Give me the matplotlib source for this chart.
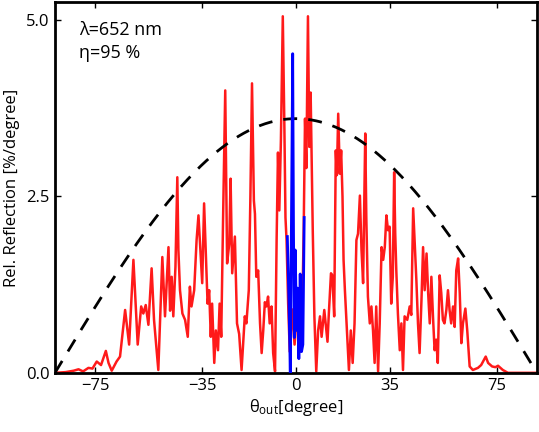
import numpy as np
import matplotlib
matplotlib.use('Agg')
import matplotlib.pyplot as plt

# red curve: (theta_out [degree], reflection [%/degree])
red_points = [
    (-90, 0.0), (-86, 0.01), (-83, 0.03), (-81.2, 0.05), (-79.5, 0.02), (-77.5, 0.07), (-76, 0.06),
    (-74.4, 0.16), (-72.8, 0.11), (-71, 0.31), (-70, 0.14), (-68.8, 0.03), (-67, 0.16),
    (-65.7, 0.23), (-63.8, 0.89), (-62.3, 0.4), (-60.7, 1.6), (-59.1, 0.4), (-57.8, 0.94),
    (-57, 0.84), (-56.1, 0.96), (-55.1, 0.68), (-53.9, 1.48), (-53, 0.75), (-51.4, 0.04),
    (-49.9, 1.64), (-48.9, 0.8), (-47.6, 1.78), (-47, 0.88), (-46.4, 1.36), (-45.8, 0.8),
    (-45, 1.5), (-44.3, 2.77), (-43.9, 1.74), (-43.3, 1.17), (-42.4, 0.84), (-41.4, 0.75),
    (-40.4, 0.51), (-39.6, 1.22), (-39, 0.94), (-38, 1.17), (-37.1, 1.88), (-36.4, 2.23),
    (-35.5, 1.6), (-35, 1.27), (-34.3, 2.4), (-33.7, 1.74), (-33, 0.98), (-32.4, 1.17),
    (-31.8, 0.51), (-31.3, 0.98), (-30.5, 0.14), (-29.9, 0.6), (-29.1, 0.32), (-28.5, 0.98),
    (-27.9, 0.51), (-27.2, 2.2), (-26.4, 4.0), (-25.7, 1.55), (-24.9, 1.83), (-24.4, 2.75),
    (-23.8, 1.41), (-22.8, 1.93), (-22, 0.7), (-21.2, 0.55), (-20.3, 0.04), (-19.1, 0.8),
    (-18.5, 0.7), (-17.6, 1.17), (-17, 2.5), (-16.4, 4.1), (-15.7, 2.44), (-15.3, 2.25),
    (-14.8, 1.36), (-14.1, 1.45), (-13.4, 0.7), (-12.8, 0.28), (-12.2, 0.6), (-11.6, 1.0),
    (-11, 0.94), (-10.4, 1.08), (-9.8, 0.7), (-9.1, 0.94), (-8.5, 0.28), (-7.8, 0.02),
    (-7.2, 1.9), (-6.7, 3.12), (-6.2, 2.3), (-5.6, 3.3), (-4.9, 5.05), (-4.3, 3.46),
    (-3.9, 2.2), (-3.5, 1.88), (-2.9, 0.98), (-2.3, 0.3), (-1.5, 0.9), (-0.5, 0.4),
    (0.5, 0.9), (1.5, 0.3), (2.2, 0.5), (2.9, 2.0), (3.4, 3.6), (3.9, 2.9), (4.5, 5.05),
    (5.0, 3.2), (5.5, 3.97), (5.9, 3.0), (6.3, 2.0), (6.9, 0.8), (7.6, 0.02), (8.3, 0.6),
    (9, 0.8), (9.6, 0.51), (10.6, 0.89), (11.1, 0.7), (11.8, 0.44), (12.3, 0.84), (13.1, 1.41),
    (13.6, 1.38), (14.3, 0.8), (14.9, 3.15), (15.3, 2.8), (15.8, 3.67), (16.4, 2.82),
    (16.9, 3.15), (17.4, 2.5), (17.8, 1.6), (18.3, 1.17), (19.2, 0.51), (19.8, 0.04),
    (20.5, 0.6), (21.2, 0.14), (21.9, 0.7), (22.6, 1.88), (23.2, 1.97), (23.9, 2.51),
    (24.5, 1.74), (25.1, 1.27), (25.9, 3.39), (26.3, 2.2), (26.9, 1.08), (27.6, 0.7),
    (28.2, 0.94), (28.8, 0.6), (29.4, 0.14), (30, 0.94), (30.7, 0.02), (31.3, 0.7), (32, 1.78),
    (32.6, 1.6), (33.2, 1.78), (33.8, 2.23), (34.4, 2.02), (35, 2.07), (35.6, 0.98),
    (36.2, 1.36), (36.7, 2.84), (37.1, 1.97), (37.5, 1.45), (38.1, 0.84), (38.8, 0.32),
    (39.4, 0.7), (40, 0.04), (40.6, 0.8), (41.6, 0.75), (42.5, 0.94), (43.1, 0.82),
    (43.8, 2.33), (44.4, 1.83), (45, 1.31), (45.6, 0.7), (46.2, 0.28), (46.9, 1.03),
    (47.5, 1.78), (48.1, 1.17), (48.8, 1.69), (49.4, 1.13), (50, 0.7), (50.6, 1.36),
    (51.2, 0.8), (51.8, 0.32), (52.4, 0.47), (53, 0.14), (53.7, 1.38), (54.3, 1.13),
    (54.9, 0.75), (55.5, 0.7), (56.2, 0.89), (56.8, 1.17), (57.4, 0.89), (58, 0.7),
    (58.7, 0.94), (59.3, 0.65), (59.9, 1.45), (60.6, 1.62), (61.2, 1.13), (61.8, 0.42),
    (62.4, 0.7), (63.3, 0.91), (64, 0.6), (64.9, 0.09), (66.1, 0.04), (68, 0.07), (69.2, 0.11),
    (70.9, 0.23), (71.8, 0.14), (73.3, 0.09), (74.5, 0.08), (75.5, 0.1), (77.3, 0.04),
    (79.2, 0.0), (90, 0.0),
]
theta_red = [p[0] for p in red_points]
refl_red = [p[1] for p in red_points]

# blue curve (central part)
theta_blue = [-3.2, -2.6, -2.1, -1.6, -1.2, -0.9, -0.6, -0.25, 0.25, 0.6, 1.1, 1.6, 2.1, 2.6, 3.1]
refl_blue = [1.93, 1.0, 0.0, 2.5, 4.52, 2.0, 0.5, 1.74, 0.6, 1.2, 0.2, 1.4, 0.3, 0.4, 2.2]

peak_envelope = 3.6

plt.rcParams['font.family'] = ['Open Sans', 'DejaVu Sans']

fig = plt.figure(figsize=(5.39, 4.32), dpi=100)
ax = fig.add_axes([0.102, 0.137, 0.894, 0.858])

th = np.linspace(-90, 90, 361)
ax.plot(th, peak_envelope * np.cos(np.radians(th)), color='black', lw=2, ls=(0, (5, 4)), zorder=3)
ax.plot(theta_red, refl_red, color='#ff1a1a', lw=1.8, zorder=2)
ax.plot(theta_blue, refl_blue, color='#0000ff', lw=2, zorder=4)

ax.set_xlim(-90, 90)
ax.set_ylim(0, 5.25)
ax.set_xticks([-75, -35, 0, 35, 75])
ax.set_xticklabels(['\u221275', '\u221235', '0', '35', '75'])
ax.set_yticks([0.0, 2.5, 5.0])
ax.set_yticklabels(['0.0', '2.5', '5.0'])
ax.tick_params(direction='in', top=True, right=True, labelsize=12, length=4, width=1, pad=4)
for s in ax.spines.values():
    s.set_linewidth(2)

ax.set_xlabel(r'$\mathregular{\theta_{out}}$[degree]', fontsize=12, labelpad=2)
ax.set_ylabel('Rel. Reflection [%/degree]', fontsize=12, labelpad=4)
ax.text(0.05, 0.95, '\u03bb=652 nm\n\u03b7=95 %', transform=ax.transAxes, va='top', ha='left',
        fontsize=13, linespacing=1.35)

fig.savefig('out.png', dpi=100)
